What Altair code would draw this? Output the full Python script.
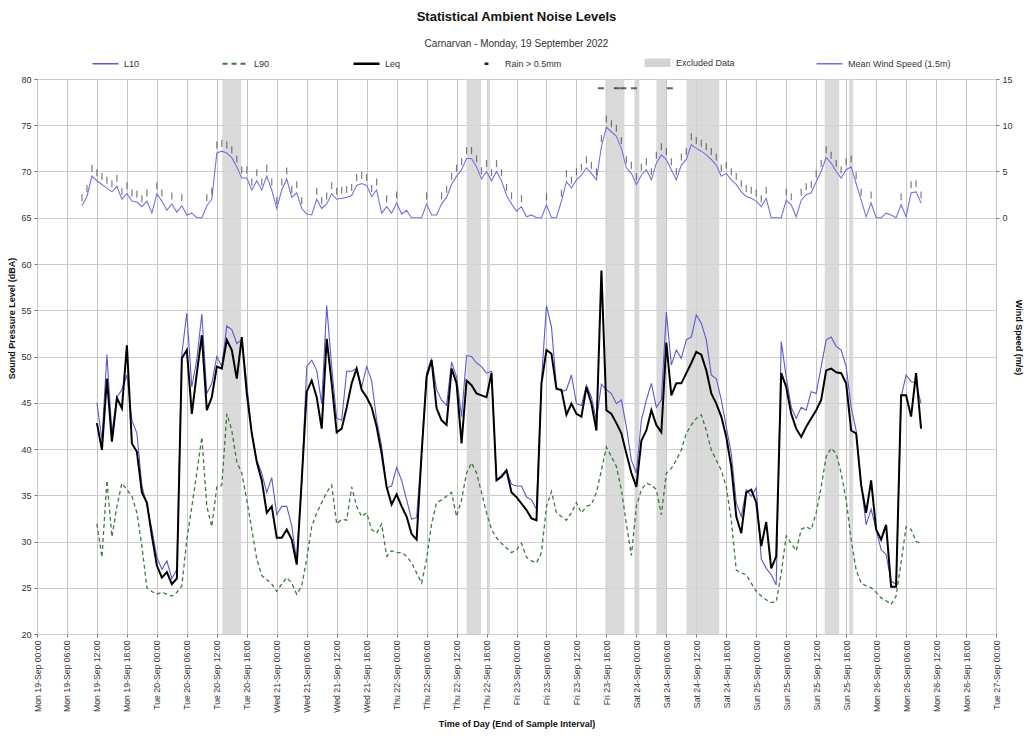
import altair as alt
import pandas as pd

FONT = "Liberation Sans"

# ---------------- data ----------------
NOISE_START_HOUR = 12  # Mon 19-Sep 12:00, hourly values
L10 = [45.0, 41.0, 50.2, 41.7, 45.6, 46.4, 48.0, 43.1, 41.7, 36.0, 33.9, 31.3, 28.3, 27.0, 27.9, 26.0, 27.0,
       50.3, 54.7, 46.7, 49.7, 54.6, 46.0, 47.1, 50.0, 48.9, 53.3, 52.9, 51.4, 51.8, 47.1, 41.7, 38.8, 37.4,
       35.3, 36.9, 32.9, 33.8, 33.8, 31.7, 27.8, 36.6, 48.9, 49.6, 48.5, 44.9, 55.5, 48.9, 43.3, 43.1, 48.4,
       48.4, 48.7, 46.7, 48.9, 47.4, 43.1, 40.3, 35.8, 36.0, 38.0, 36.6, 34.5, 32.4, 32.6, 39.5, 48.2, 49.8,
       46.4, 45.3, 44.7, 49.4, 47.8, 43.5, 50.1, 50.0, 49.3, 48.9, 48.2, 48.4, 36.6, 37.2, 37.7, 36.2, 36.0,
       36.0, 34.8, 34.5, 33.5, 47.4, 55.5, 53.2, 46.7, 46.2, 46.4, 48.0, 44.9, 44.7, 46.9, 45.6, 43.1, 47.0,
       46.4, 46.0, 44.9, 45.3, 42.4, 38.8, 37.4, 43.1, 45.3, 47.1, 44.5, 45.3, 54.8, 49.1, 50.7, 49.8, 51.8,
       52.1, 54.5, 53.6, 51.8, 48.0, 47.6, 45.3, 42.4, 39.5, 34.2, 32.7, 35.6, 34.9, 35.8, 28.1, 27.1, 26.4,
       25.3, 51.6, 47.8, 44.5, 43.3, 44.5, 44.2, 46.2, 46.0, 48.9, 51.8, 52.1, 51.1, 50.7, 48.9, 44.5, 42.0,
       36.3, 31.8, 33.5, 31.3, 29.1, 28.6, 25.7, 25.4, 45.6, 48.0, 47.3, 47.1, 44.9]
LEQ = [42.8, 39.9, 47.6, 40.8, 45.5, 44.4, 51.2, 40.6, 39.7, 35.3, 34.2, 30.6, 27.4, 26.1, 26.7, 25.4, 26.0,
       49.8, 50.7, 43.8, 48.2, 52.3, 44.2, 45.6, 48.9, 48.7, 51.8, 50.7, 47.6, 52.1, 46.0, 41.7, 38.6, 36.6,
       33.1, 33.8, 30.4, 30.4, 31.3, 30.2, 27.5, 36.6, 46.2, 47.4, 45.6, 42.2, 51.9, 47.1, 41.8, 42.2, 44.5,
       47.1, 48.7, 46.4, 45.6, 44.5, 42.4, 39.5, 35.9, 34.0, 35.1, 33.8, 32.7, 30.8, 30.2, 39.5, 47.8, 49.6,
       44.4, 43.1, 42.6, 48.7, 47.1, 40.6, 47.4, 46.9, 46.0, 45.8, 45.6, 48.2, 36.6, 37.0, 37.7, 35.3, 34.8,
       34.1, 33.4, 32.5, 32.3, 47.1, 50.7, 50.3, 46.5, 46.4, 43.7, 44.9, 43.8, 43.5, 46.7, 44.9, 42.0, 59.3,
       44.2, 43.8, 42.8, 41.7, 39.5, 37.4, 35.9, 40.9, 42.0, 44.2, 42.6, 41.8, 51.5, 45.8, 47.1, 47.1, 48.2,
       49.3, 50.5, 50.2, 48.5, 46.0, 44.9, 43.5, 41.3, 38.1, 32.7, 30.9, 35.3, 35.6, 34.2, 29.5, 32.1, 27.1,
       28.4, 48.2, 46.7, 43.8, 42.2, 41.3, 42.4, 43.3, 44.2, 45.3, 48.5, 48.7, 48.3, 48.2, 47.1, 42.0, 41.7,
       36.1, 33.1, 36.6, 31.3, 30.2, 31.8, 25.1, 25.1, 45.8, 45.8, 43.5, 48.2, 42.2]
L90 = [31.9, 28.3, 36.6, 30.5, 33.8, 36.3, 35.6, 34.9, 33.1, 29.5, 25.0, 24.6, 24.3, 24.5, 24.3, 24.1, 24.5,
       25.2, 30.2, 33.8, 37.4, 41.3, 33.8, 31.6, 35.9, 36.1, 43.8, 42.0, 38.6, 37.4, 34.5, 31.3, 28.1, 26.3,
       25.9, 25.4, 24.6, 25.4, 26.1, 25.5, 24.3, 25.2, 28.1, 31.6, 33.1, 34.2, 35.3, 36.1, 31.9, 32.4, 32.3,
       35.9, 33.8, 32.7, 33.1, 31.3, 30.9, 31.9, 28.4, 29.0, 28.8, 28.8, 28.4, 27.7, 26.6, 25.5, 28.1, 31.9,
       34.2, 34.5, 34.9, 35.3, 32.7, 34.5, 37.4, 38.5, 37.4, 35.3, 33.1, 31.3, 30.4, 29.8, 29.3, 28.8, 29.1,
       29.8, 28.3, 27.9, 27.7, 28.8, 33.8, 35.4, 33.1, 32.7, 32.3, 33.1, 34.2, 33.1, 33.8, 34.0, 35.3, 37.7,
       40.2, 39.2, 38.1, 35.6, 31.9, 28.5, 33.8, 35.6, 36.3, 36.1, 35.6, 32.9, 37.4, 37.9, 38.8, 39.9, 41.7,
       42.6, 43.3, 43.7, 42.0, 39.9, 38.8, 37.7, 35.9, 32.3, 26.9, 26.6, 26.4, 25.5, 24.6, 24.1, 23.7, 23.4,
       23.5, 26.6, 30.6, 29.8, 29.0, 31.3, 31.6, 31.3, 33.1, 35.9, 39.2, 40.1, 39.5, 37.4, 34.5, 30.2, 26.9,
       25.5, 25.2, 25.0, 24.5, 23.9, 23.6, 23.2, 24.1, 27.7, 31.6, 31.3, 30.0, 29.8]

WIND_START_HOUR = 9  # Mon 19-Sep 09:00, hourly values (m/s)
WIND = [1.3, 2.3, 4.5, 4.0, 3.6, 3.2, 2.8, 3.4, 2.0, 2.6, 1.8, 1.7, 1.2, 1.8, 0.5, 2.6, 1.8, 0.8, 1.5, 0.6,
        1.3, 0.3, 0.5, 0.0, 0.0, 1.3, 2.0, 7.0, 7.2, 7.0, 6.5, 5.5, 4.3, 4.3, 3.0, 4.0, 3.0, 4.5, 3.0, 1.0,
        3.0, 4.2, 2.2, 2.7, 1.0, 0.4, 0.3, 2.0, 1.0, 1.5, 2.6, 2.0, 2.1, 2.2, 2.4, 3.5, 3.7, 3.5, 2.3, 3.0,
        0.5, 1.2, 0.5, 1.6, 0.4, 0.8, 0.0, 0.0, 0.0, 1.5, 0.3, 0.3, 1.5, 2.2, 3.6, 4.5, 5.2, 6.4, 6.4, 5.5,
        4.2, 5.0, 4.0, 5.0, 4.0, 2.4, 1.5, 0.7, 1.2, 0.1, 0.3, 0.0, 0.0, 1.4, 0.0, 0.0, 1.8, 3.9, 3.2, 4.1,
        4.6, 5.4, 4.8, 4.1, 7.7, 9.8, 9.3, 8.8, 7.5, 5.4, 4.8, 3.6, 4.6, 5.2, 4.1, 5.9, 6.8, 6.3, 5.2, 4.1,
        5.7, 6.3, 7.9, 7.5, 7.2, 6.8, 6.3, 5.7, 4.5, 4.8, 4.1, 3.6, 2.8, 2.3, 2.1, 1.8, 1.2, 2.1, 0.0, 0.0,
        0.0, 1.9, 1.4, 0.1, 1.9, 2.5, 2.7, 3.9, 5.0, 6.5, 5.9, 5.0, 4.3, 5.2, 5.5, 3.7, 1.9, 0.1, 1.6, 0.0,
        0.0, 0.5, 0.3, 0.0, 1.4, 0.1, 2.7, 2.8, 1.6]

EXCLUDED_START = [37.1, 86.0, 90.1, 113.8, 119.6, 124.0, 130.0, 157.7, 162.6]
EXCLUDED_END = [40.9, 88.9, 90.7, 117.6, 120.6, 126.0, 136.6, 160.6, 163.4]
RAIN_HOURS = [112.9, 116.1, 117.4, 119.5, 126.7]

DAYS = ["Mon 19", "Tue 20", "Wed 21", "Thu 22", "Fri 23", "Sat 24", "Sun 25", "Mon 26", "Tue 27"]
TIMES = ["00:00", "06:00", "12:00", "18:00"]
TICK_LABELS = [f"{DAYS[i // 4]}-Sep {TIMES[i % 4]}" for i in range(33)]
TICK_VALUES = [6 * i for i in range(33)]

SERIES = ["L10", "L90", "Leq", "Rain > 0.5mm", "Excluded Data", "Mean Wind Speed (1.5m)"]
COLORS = ["#5a5ad0", "#3d7a3d", "#000000", "#222222", "#d4d4d4", "#7272e2"]

# ---------------- tables ----------------
hours = [NOISE_START_HOUR + i for i in range(len(L10))]
noise = pd.DataFrame({"hour": hours, "L10": L10, "Leq": LEQ, "L90": L90})
noise_long = noise.melt("hour", var_name="series", value_name="level")
wind = pd.DataFrame({"hour": [WIND_START_HOUR + i for i in range(len(WIND))], "wind": WIND})
wind["series"] = "Mean Wind Speed (1.5m)"
bands = pd.DataFrame({"start": EXCLUDED_START, "end": EXCLUDED_END, "series": "Excluded Data"})
rain = pd.DataFrame({"hour": RAIN_HOURS, "series": "Rain > 0.5mm"})

BLOCK_PATH = "M-1,-0.25L1,-0.25M-1,-0.12L1,-0.12M-1,0L1,0M-1,0.12L1,0.12M-1,0.25L1,0.25"
legend = alt.Legend(
    title=None, orient="none", legendX=64, legendY=-21, direction="horizontal", columns=6,
    columnPadding=78, padding=0, symbolSize=676, labelOffset=14, labelFont=FONT, labelFontSize=9,
    labelColor="#333", symbolOpacity=1,
    symbolType=alt.ExprRef(expr="datum.value === 'Rain > 0.5mm' ? 'M-0.15,0L0.15,0' : "
                                f"datum.value === 'Excluded Data' ? '{BLOCK_PATH}' : 'stroke'"),
    symbolStrokeWidth=alt.ExprRef(expr="(datum.value === 'Leq' || datum.value === 'Rain > 0.5mm') ? 2.5 : "
                                       "(datum.value === 'L90' || datum.value === 'Excluded Data') ? 2 : 1.3"),
    symbolDash=alt.ExprRef(expr="datum.value === 'L90' ? [5, 4] : [1, 0]"),
)
color = alt.Color("series:N", scale=alt.Scale(domain=SERIES, range=COLORS), legend=legend)

xscale = alt.Scale(domain=[0, 192], nice=False, zero=False)
labels_js = "[" + ",".join(f"'{s}'" for s in TICK_LABELS) + "]"
xaxis = alt.Axis(values=TICK_VALUES, labelExpr=f"{labels_js}[round(datum.value / 6)]", labelAngle=-90,
                 labelFontSize=8.7, labelPadding=3, tickSize=3, grid=True, gridColor="#c4c4c4",
                 title="Time of Day (End of Sample Interval)", titleFontSize=9, titleFontWeight="bold",
                 titlePadding=7)
X = alt.X("hour:Q", scale=xscale, axis=xaxis)

yscale = alt.Scale(domain=[20, 80], nice=False, zero=False)
yaxis = alt.Axis(values=list(range(20, 81, 5)), grid=True, gridColor="#cdcdcd", tickSize=3,
                 labelFontSize=9, labelPadding=3, title="Sound Pressure Level (dBA)", titleFontSize=9,
                 titleFontWeight="bold", titlePadding=4, titleY=239)

band_layer = alt.Chart(bands).mark_rect(opacity=0.85).encode(
    x=alt.X("start:Q", scale=xscale, axis=xaxis), x2="end:Q",
    y=alt.Y(datum=80, type="quantitative", scale=yscale, axis=yaxis), y2=alt.Y2(datum=20),
    color=color)

rain_layer = alt.Chart(rain).mark_tick(orient="horizontal", size=6, thickness=2).encode(
    x=X, y=alt.Y(datum=79, type="quantitative", scale=yscale), color=color)

l90_layer = alt.Chart(noise_long).transform_filter("datum.series === 'L90'").mark_line(
    strokeWidth=1.3, strokeDash=[4, 3]).encode(
    x=X, y=alt.Y("level:Q", scale=yscale), color=color)
l10_layer = alt.Chart(noise_long).transform_filter("datum.series === 'L10'").mark_line(
    strokeWidth=1.1).encode(x=X, y=alt.Y("level:Q", scale=yscale), color=color)
leq_layer = alt.Chart(noise_long).transform_filter("datum.series === 'Leq'").mark_line(
    strokeWidth=2).encode(x=X, y=alt.Y("level:Q", scale=yscale), color=color)

noise_chart = alt.layer(band_layer, rain_layer, l90_layer, l10_layer, leq_layer)

wscale = alt.Scale(domain=[-45, 15], nice=False, zero=False)
waxis = alt.Axis(orient="right", values=[0, 5, 10, 15], grid=False, tickSize=3, labelFontSize=9,
                 labelPadding=3, title="Wind Speed (m/s)", titleAngle=90, titleFontSize=9,
                 titleFontWeight="bold", titlePadding=1, titleY=258)
wind_line = alt.Chart(wind).mark_line(strokeWidth=1.1).encode(
    x=X, y=alt.Y("wind:Q", scale=wscale, axis=waxis), color=color)
wind_marks = alt.Chart(wind).transform_filter("datum.wind >= 1").mark_tick(
    orient="vertical", size=7, thickness=1.2, color="#444", opacity=0.7, yOffset=-8).encode(
    x=X, y=alt.Y("wind:Q", scale=wscale))
wind_chart = alt.layer(wind_line, wind_marks)

chart = alt.layer(noise_chart, wind_chart).resolve_scale(y="independent").properties(
    width=959, height=555,
    autosize=alt.AutoSizeParams(type="none"),
    padding={"left": 37, "top": 79, "right": 28, "bottom": 105},
    title=alt.TitleParams(text="Statistical Ambient Noise Levels",
                          subtitle="Carnarvan - Monday, 19 September 2022",
                          anchor="middle", font=FONT, fontSize=13, fontWeight="bold", color="#111",
                          subtitleFont=FONT, subtitleFontSize=10, subtitleColor="#333",
                          subtitlePadding=15, offset=9),
).configure(background="white").configure_view(stroke="#666", strokeWidth=1).configure_axis(
    labelFont=FONT, titleFont=FONT, labelColor="#333", titleColor="#111", tickColor="#777",
    domain=False)

chart.save("out.html", embed_options={"renderer": "svg", "actions": False})
